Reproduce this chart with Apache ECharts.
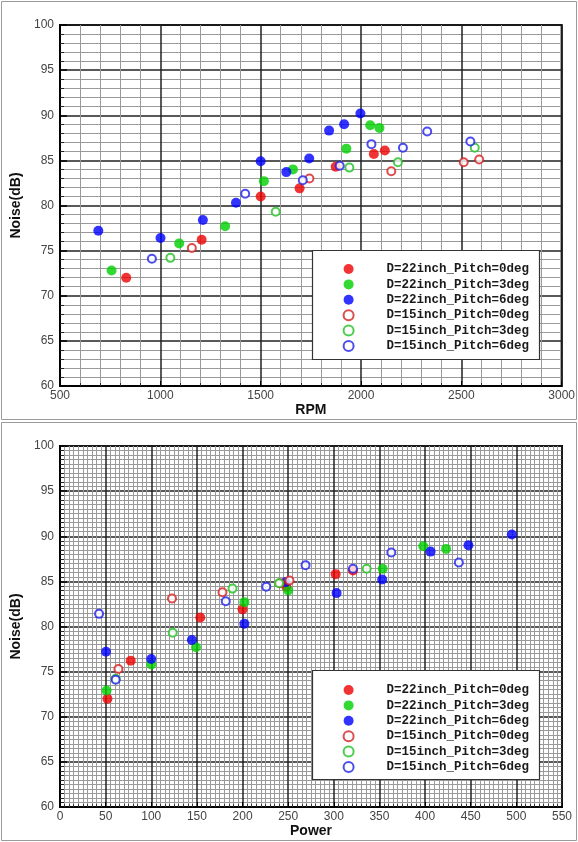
<!DOCTYPE html>
<html>
<head>
<meta charset="utf-8">
<script src="https://cdn.jsdelivr.net/npm/echarts@6/dist/echarts.min.js"></script>
<style>html,body{margin:0;padding:0;background:#fff}#c{width:578px;height:842px}</style>
</head>
<body>
<div id="c"></div>
<script>
// ---------- data ----------
const seriesNames = ['D=22inch_Pitch=0deg','D=22inch_Pitch=3deg','D=22inch_Pitch=6deg','D=15inch_Pitch=0deg','D=15inch_Pitch=3deg','D=15inch_Pitch=6deg'];

// Top chart: [RPM, Noise(dB)]
const rpm_22_0 = [[830,72.0],[1206,76.2],[1500,81.0],[1694,81.9],[1874,84.3],[2064,85.7],[2119,86.1]];
const rpm_22_3 = [[757,72.8],[1094,75.8],[1323,77.7],[1516,82.7],[1661,84.0],[1927,86.3],[2046,88.9],[2092,88.6]];
const rpm_22_6 = [[691,77.2],[1001,76.4],[1212,78.4],[1377,80.3],[1500,84.9],[1628,83.7],[1742,85.2],[1841,88.3],[1916,89.0],[1997,90.2]];
const rpm_15_0 = [[1157,75.3],[1743,83.0],[2151,83.8],[2512,84.8],[2589,85.1]];
const rpm_15_3 = [[1050,74.2],[1575,79.3],[1942,84.2],[2184,84.8],[2567,86.4]];
const rpm_15_6 = [[958,74.1],[1423,81.3],[1710,82.8],[1894,84.4],[2052,86.8],[2209,86.4],[2330,88.2],[2545,87.1]];

// Bottom chart: [Power, Noise(dB)]
const pow_22_0 = [[52,72.0],[77.5,76.2],[153.7,81.0],[200,81.9],[248,84.4],[302,85.8],[321,86.2]];
const pow_22_3 = [[51,72.9],[100,75.8],[149,77.7],[202,82.7],[250,84.0],[353.5,86.4],[398,88.9],[423,88.6]];
const pow_22_6 = [[50.4,77.2],[100,76.4],[144.5,78.5],[202,80.3],[247,84.9],[303,83.7],[353,85.2],[406,88.3],[447.5,89.0],[495,90.2]];
const pow_15_0 = [[64,75.3],[122.7,83.1],[178,83.8],[241,84.8],[251.4,85.1]];
const pow_15_3 = [[61,74.2],[123.5,79.3],[189,84.2],[240,84.8],[336,86.4]];
const pow_15_6 = [[42.8,81.4],[61,74.1],[181.6,82.8],[226,84.4],[269,86.8],[321,86.4],[363,88.2],[437,87.1]];

const xTop = {min:500, max:3000, interval:500, minor:5, name:'RPM'};
const xBot = {min:0, max:550, interval:50, minor:10, name:'Power'};
const yAll = {min:60, max:100, interval:5, name:'Noise(dB)'};

// ---------- styles ----------
const colors = ['#ee0000','#00d000','#0000ff','#d42020','#20c020','#2020e8'];
const filled = [true,true,true,false,false,false];
const labelFont = 'Liberation Sans, Arial, sans-serif';

function xAxisCfg(ax, gi){
  return {
    type:'value', gridIndex:gi, min:ax.min, max:ax.max, interval:ax.interval,
    name:ax.name, nameLocation:'middle', nameGap:15,
    nameTextStyle:{fontFamily:labelFont, fontWeight:'bold', fontSize:14, color:'#111'},
    axisLine:{show:true, onZero:false, lineStyle:{color:'#000', width:2}},
    axisTick:{show:true, inside:true, length:5, lineStyle:{color:'#000'}},
    minorTick:{show:true, splitNumber:ax.minor, length:3, lineStyle:{color:'#333'}},
    axisLabel:{fontFamily:labelFont, fontSize:12, color:'#444', margin:4, formatter:(v)=>String(v)},
    splitLine:{show:true, lineStyle:{color:'#222', width:1.5}},
    minorSplitLine:{show:true, lineStyle:{color:'#9a9a9a', width:1}}
  };
}
function yAxisCfg(ax, gi, minor){
  return {
    type:'value', gridIndex:gi, min:ax.min, max:ax.max, interval:ax.interval,
    name:ax.name, nameLocation:'middle', nameGap:32,
    nameTextStyle:{fontFamily:labelFont, fontWeight:'bold', fontSize:14, color:'#111'},
    axisLine:{show:true, onZero:false, lineStyle:{color:'#000', width:2}},
    axisTick:{show:true, inside:true, length:7, lineStyle:{color:'#000', width:1.5}},
    minorTick:{show:true, splitNumber:minor, length:4, lineStyle:{color:'#222'}},
    axisLabel:{fontFamily:labelFont, fontSize:12, color:'#444', margin:6, formatter:(v)=>String(v)},
    splitLine:{show:true, lineStyle:{color:'#222', width:1.5}},
    minorSplitLine:{show:true, lineStyle:{color:'#9a9a9a', width:1}}
  };
}
function mkSeries(data, i, gi){
  return {
    type:'scatter', name:seriesNames[i], xAxisIndex:gi, yAxisIndex:gi, data:data,
    symbol: filled[i] ? 'circle' : 'emptyCircle',
    symbolSize: filled[i] ? 10 : 8,
    itemStyle: filled[i] ? {color:colors[i]} : {color:colors[i], borderColor:colors[i], borderWidth:2},
    z: 5
  };
}
function legendCfg(top){
  return {
    orient:'vertical', left:342.6, top:top, padding:0, itemGap:0,
    itemWidth:10, itemHeight:10, data:seriesNames,
    textStyle:{fontFamily:'Liberation Mono, DejaVu Sans Mono, monospace', fontWeight:'bold', fontSize:12.5, color:'#1a1a1a', lineHeight:15.4, height:15.4, padding:[0,0,0,28]}
  };
}

const topSets = [rpm_22_0,rpm_22_3,rpm_22_6,rpm_15_0,rpm_15_3,rpm_15_6];
const botSets = [pow_22_0,pow_22_3,pow_22_6,pow_15_0,pow_15_3,pow_15_6];

const option = {
  animation:false,
  backgroundColor:'#fff',
  color:colors,
  grid:[
    {left:60, top:25, width:502, height:361, show:true, borderColor:'#000', borderWidth:2, backgroundColor:'#fff'},
    {left:60, top:446, width:502, height:361, show:true, borderColor:'#000', borderWidth:2, backgroundColor:'#fff'}
  ],
  xAxis:[xAxisCfg(xTop,0), xAxisCfg(xBot,1)],
  yAxis:[yAxisCfg(yAll,0,5), yAxisCfg(yAll,1,10)],
  legend:[legendCfg(261.3), legendCfg(682.3)],
  graphic:[
    {type:'rect', shape:{x:1.5, y:1.5, width:575, height:418}, style:{fill:null, stroke:'#9a9a9a', lineWidth:1}, z:-1},
    {type:'rect', shape:{x:1.5, y:422.5, width:575, height:418}, style:{fill:null, stroke:'#9a9a9a', lineWidth:1}, z:-1},
    {type:'rect', shape:{x:312.5, y:250.5, width:227, height:109}, style:{fill:'#fff', stroke:'#333', lineWidth:1.2}, z:4},
    {type:'rect', shape:{x:312.5, y:670.5, width:227, height:109}, style:{fill:'#fff', stroke:'#333', lineWidth:1.2}, z:4}
  ],
  series: topSets.map((d,i)=>mkSeries(d,i,0)).concat(botSets.map((d,i)=>mkSeries(d,i,1)))
};

const chart = echarts.init(document.getElementById('c'), null, {renderer:'canvas'});
chart.setOption(option);
</script>
</body>
</html>
